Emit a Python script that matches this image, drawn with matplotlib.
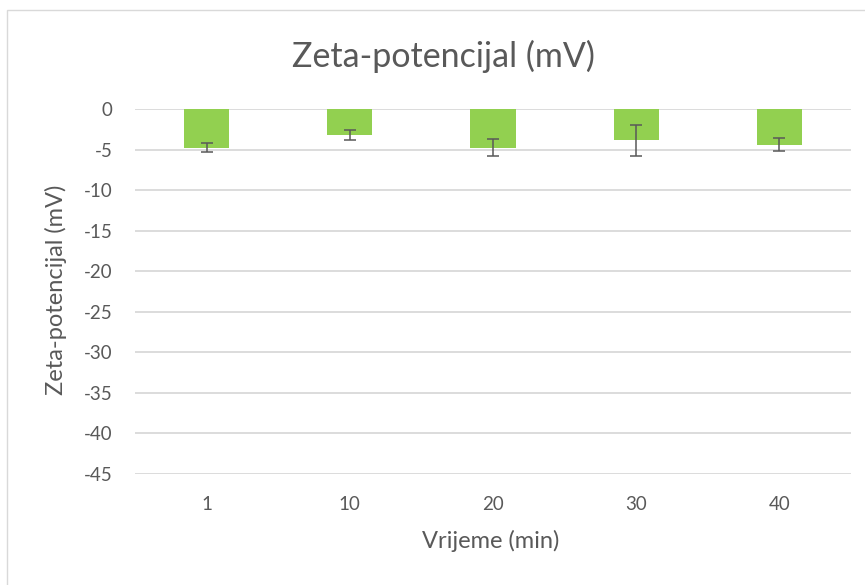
import matplotlib.pyplot as plt
from matplotlib.patches import Rectangle

# Zeta-potential per time point (mV) with error bars
times = ["1", "10", "20", "30", "40"]
zeta = [-4.8, -3.15, -4.75, -3.85, -4.4]
zeta_err = [0.55, 0.62, 1.03, 1.9, 0.8]

TEXT = "#595959"
GRID = "#D9D9D9"
BAR = "#92D050"

plt.rcParams["font.family"] = ["Lato", "DejaVu Sans"]
plt.rcParams["axes.unicode_minus"] = False

fig = plt.figure(figsize=(8.65, 5.85), dpi=100)
ax = fig.add_axes([135 / 865, 1 - 474 / 585, (851 - 135) / 865, (474 - 109) / 585])

x = range(len(times))
ax.bar(x, zeta, width=0.316, color=BAR, zorder=3)
ax.errorbar(x, zeta, yerr=zeta_err, fmt="none", ecolor=TEXT,
            elinewidth=1.1, capsize=4.3, capthick=1.1, zorder=4)

ax.set_ylim(-45, 0)
ax.set_xlim(-0.5, len(times) - 0.5)
ax.set_yticks(range(-45, 1, 5))
ax.set_xticks(list(x))
ax.set_xticklabels(times)
ax.yaxis.grid(True, color=GRID, linewidth=1.3, zorder=0)
ax.set_axisbelow(True)
for s in ax.spines.values():
    s.set_visible(False)
ax.tick_params(axis="both", length=0, colors=TEXT, labelsize=13.5)
ax.tick_params(axis="y", pad=16)
ax.tick_params(axis="x", pad=16)

fig.text(491 / 865, 1 - 541 / 585, "Vrijeme (min)", color=TEXT,
         fontsize=17, ha="center", va="center")
fig.text(56 / 865, 1 - 290 / 585, "Zeta-potencijal (mV)", color=TEXT,
         fontsize=17, ha="center", va="center", rotation=90)
fig.text(443 / 865, 1 - 67 / 585, "Zeta-potencijal (mV)", color=TEXT,
         fontsize=24.5, ha="center", va="baseline")

# chart border
fig.patches.append(Rectangle((7 / 865, -0.1), 1.2, 1 - 10 / 585 + 0.1,
                             transform=fig.transFigure, fill=False,
                             edgecolor=GRID, linewidth=1))

fig.savefig("out.png", dpi=100)
